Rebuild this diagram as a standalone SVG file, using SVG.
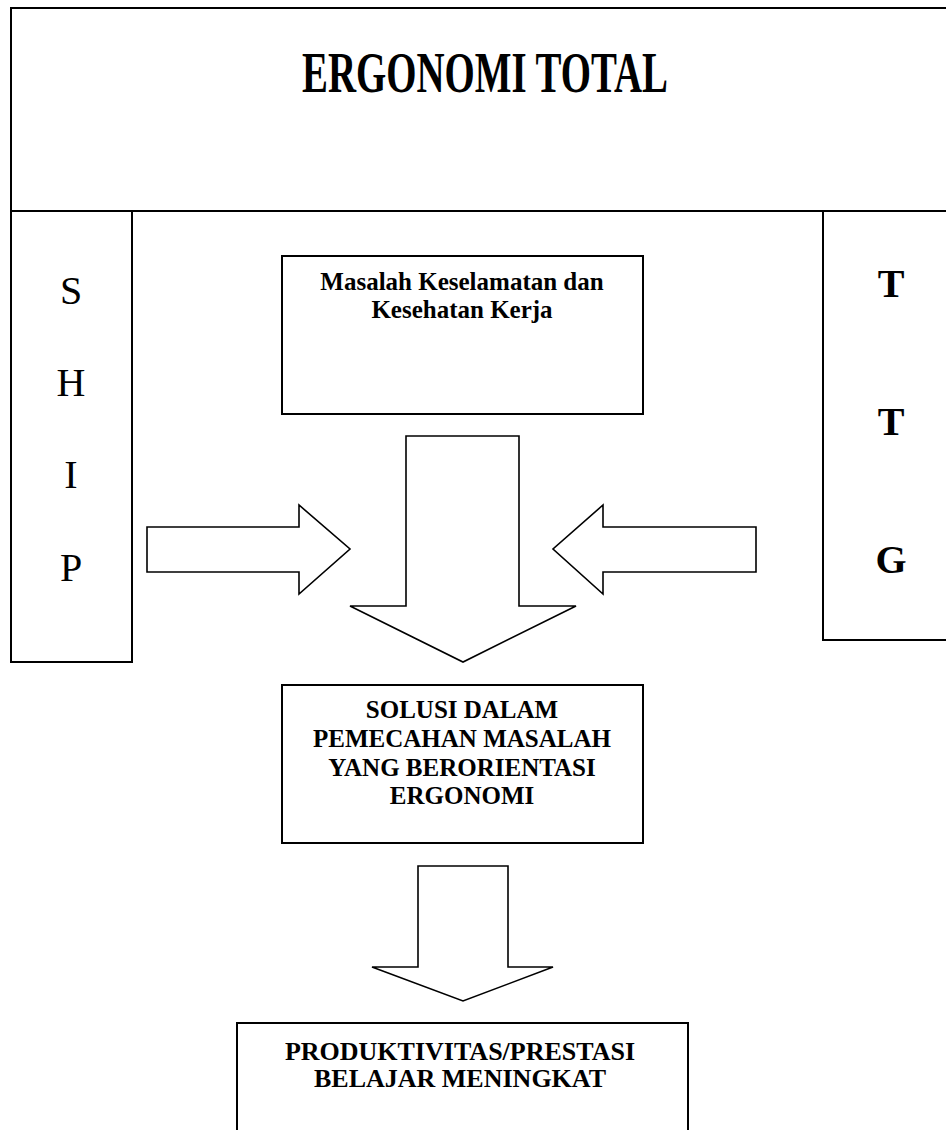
<svg xmlns="http://www.w3.org/2000/svg" width="946" height="1130" viewBox="0 0 946 1130">
<style>
.box{fill:#fff;stroke:#000;stroke-width:2}
.arr{fill:#fff;stroke:#000;stroke-width:1.6;stroke-linejoin:miter}
.t{font-family:"Liberation Serif","Times New Roman",serif;fill:#000;text-anchor:middle}
.b{font-weight:bold}
</style>
<rect width="946" height="1130" fill="#fff"/>
<g id="ergonomi-total">
<rect class="box" x="11" y="8" width="945" height="203"/>
<text class="t b" x="485" y="92" font-size="58" textLength="366" lengthAdjust="spacingAndGlyphs">ERGONOMI TOTAL</text>
</g>
<g id="ship">
<rect class="box" x="11" y="211" width="121" height="451"/>
<text class="t" x="71" y="304" font-size="40">S</text>
<text class="t" x="71" y="396" font-size="40">H</text>
<text class="t" x="71" y="488" font-size="40">I</text>
<text class="t" x="71" y="581" font-size="40">P</text>
</g>
<g id="ttg">
<rect class="box" x="823" y="211" width="133" height="429"/>
<text class="t b" x="891" y="297" font-size="40">T</text>
<text class="t b" x="891" y="435" font-size="40">T</text>
<text class="t b" x="891" y="573" font-size="40">G</text>
</g>
<g id="masalah">
<rect class="box" x="282" y="256" width="361" height="158"/>
<text class="t b" x="462" y="290" font-size="25">Masalah Keselamatan dan</text>
<text class="t b" x="462" y="318" font-size="25">Kesehatan Kerja</text>
</g>
<g id="solusi">
<rect class="box" x="282" y="685" width="361" height="158"/>
<text class="t b" x="462" y="718" font-size="25">SOLUSI DALAM</text>
<text class="t b" x="462" y="747" font-size="25">PEMECAHAN MASALAH</text>
<text class="t b" x="462" y="776" font-size="25">YANG BERORIENTASI</text>
<text class="t b" x="462" y="804" font-size="25">ERGONOMI</text>
</g>
<g id="produktivitas">
<rect class="box" x="237" y="1023" width="451" height="120"/>
<text class="t b" x="460" y="1060" font-size="26">PRODUKTIVITAS/PRESTASI</text>
<text class="t b" x="460" y="1087" font-size="26">BELAJAR MENINGKAT</text>
</g>
<g id="connectors">
<polygon class="arr" points="147,527 299,527 299,505 350,549 299,594 299,572 147,572"/>
<polygon class="arr" points="756,527 603,527 603,505 553,549 603,594 603,572 756,572"/>
<polygon class="arr" points="406,436 519,436 519,606 576,606 463,662 350,606 406,606"/>
<polygon class="arr" points="418,866 508,866 508,967 553,967 463,1001 372,967 418,967"/>
</g>
</svg>
